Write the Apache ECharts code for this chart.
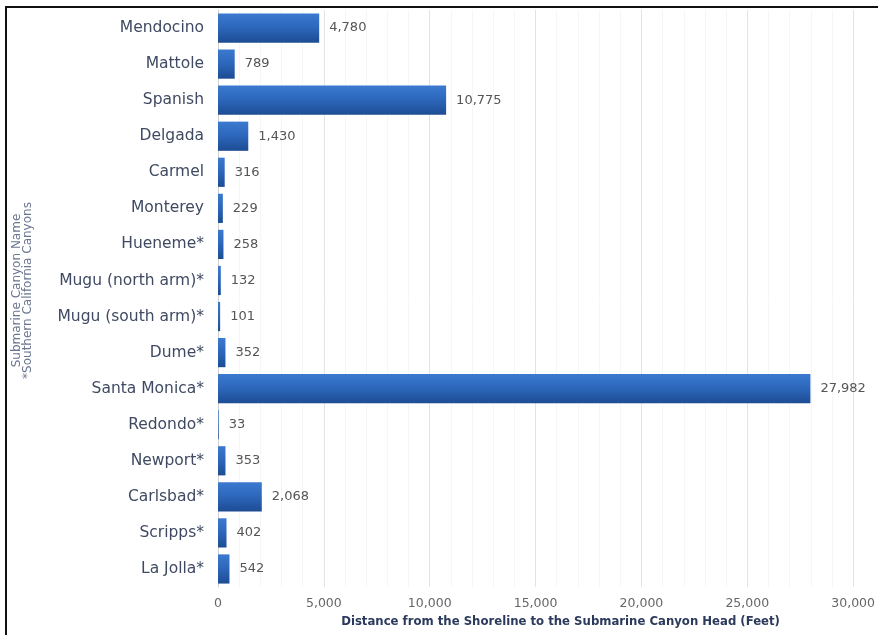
<!DOCTYPE html>
<html><head><meta charset="utf-8">
<script src="https://cdn.jsdelivr.net/npm/echarts@6/dist/echarts.min.js"></script>
<style>html,body{margin:0;padding:0;background:#fff;}#c{width:878px;height:635px;}</style>
</head><body><div id="c"></div>
<script>
const categories = ["Mendocino","Mattole","Spanish","Delgada","Carmel","Monterey","Hueneme*","Mugu (north arm)*","Mugu (south arm)*","Dume*","Santa Monica*","Redondo*","Newport*","Carlsbad*","Scripps*","La Jolla*"];
const distances = [4780,789,10775,1430,316,229,258,132,101,352,27982,33,353,2068,402,542];
const xTicks = {min:0, max:30000, interval:5000};

const fmt = v => Number(v).toLocaleString('en-US');
const chart = echarts.init(document.getElementById('c'));
chart.setOption({
  animation:false,
  backgroundColor:'#fff',
  grid:{left:218, right:20, top:10, bottom:48, containLabel:false},
  xAxis:{
    type:'value', min:xTicks.min, max:xTicks.max, interval:xTicks.interval,
    axisLine:{show:false}, axisTick:{show:false},
    axisLabel:{formatter:fmt, color:'#666', fontFamily:'DejaVu Sans', fontSize:12.5, margin:10},
    splitLine:{show:true, lineStyle:{color:'#e3e3e3', width:1}},
    minorTick:{show:false, splitNumber:5},
    minorSplitLine:{show:true, lineStyle:{color:'#f6f6f6', width:1}},
    name:'Distance from the Shoreline to the Submarine Canyon Head (Feet)',
    nameLocation:'middle', nameGap:24,
    nameTextStyle:{color:'#2b3a5c', fontFamily:"'DejaVu Sans Condensed', 'DejaVu Sans'", fontWeight:'bold', fontSize:13, padding:[0,0,0,50]}
  },
  yAxis:{
    type:'category', data:categories, inverse:true,
    axisLine:{show:true, lineStyle:{color:'#d0d0d0'}}, axisTick:{show:false},
    axisLabel:{color:'#3f4a62', fontFamily:'DejaVu Sans', fontSize:15.5, margin:14},
    name:'Submarine Canyon Name\n*Southern California Canyons',
    nameLocation:'middle', nameGap:185, nameRotate:90,
    nameTextStyle:{color:'#6a7690', fontFamily:'DejaVu Sans', fontSize:12, lineHeight:11, padding:[0,0,0,16]}
  },
  series:[{
    type:'bar', data:distances, barWidth:'81%',
    itemStyle:{color:new echarts.graphic.LinearGradient(0,0,0,1,[
      {offset:0,color:'#3b7ad0'},{offset:0.5,color:'#2c66ba'},{offset:1,color:'#1d4c93'}])},
    label:{show:true, position:'right', distance:10, formatter:p=>fmt(p.value), color:'#555', fontFamily:'DejaVu Sans', fontSize:13}
  }],
  graphic:[{type:'rect', shape:{x:6, y:7, width:900, height:700}, style:{fill:'none', stroke:'#111', lineWidth:2}, z:100}]
});
</script></body></html>
